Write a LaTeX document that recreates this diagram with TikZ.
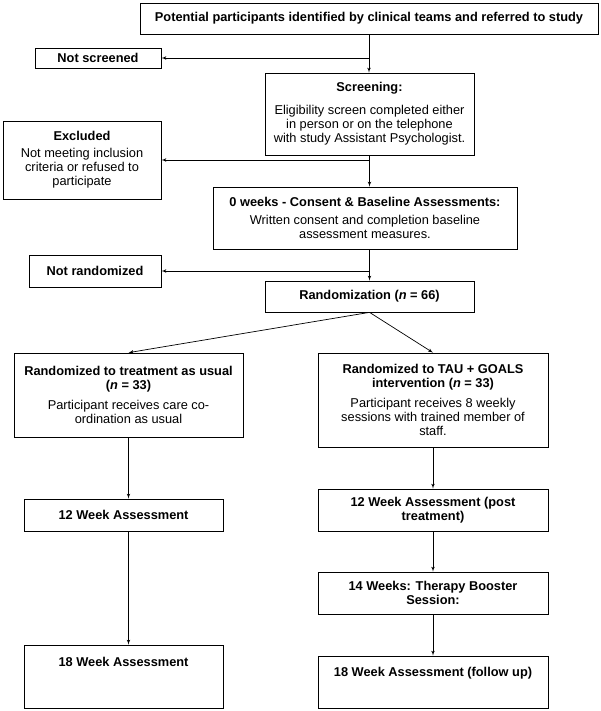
\documentclass[tikz,border=0pt]{standalone}
\usepackage{fontspec}
\setmainfont{Liberation Sans}
\usetikzlibrary{arrows, positioning, calc}
\tikzset{block/.style={draw, rectangle, align=center, inner sep=2pt, line width=0.7pt},
         >=latex'}

\begin{document}
\begin{tikzpicture}[x=1pt, y=-1pt, font=\fontsize{12.8}{14.4}\selectfont, line width=0.7pt]
    \useasboundingbox (0,0) rectangle (600,711);

    \node[block, minimum width=458pt, minimum height=31pt] (ref) at (369,18.5) {\bfseries Potential participants identified by clinical teams and referred to study};
    \node[block, minimum width=126pt, minimum height=20pt] (notscr) at (98,58) {\bfseries Not screened};
    \node[block, minimum width=209pt, minimum height=82pt] (screen) at (369.5,114) {\textbf{Screening:}\\[8pt] Eligibility screen completed either\\ in person or on the telephone\\ with study Assistant Psychologist.};
    \node[block, minimum width=158pt, minimum height=78pt] (excl) at (82,160) {\textbf{Excluded}\\[2pt] Not meeting inclusion\\ criteria or refused to\\ participate};
    \node[block, minimum width=304pt, minimum height=62pt] (consent) at (365,218) {\textbf{0 weeks - Consent \& Baseline Assessments:}\\[4pt] Written consent and completion baseline\\ assessment measures.};
    \node[block, minimum width=132pt, minimum height=32pt] (notrand) at (95,271) {\bfseries Not randomized};
    \node[block, minimum width=209pt, minimum height=31pt] (rand) at (369.5,296.5) {\bfseries Randomization (\textit{n} = 66)};

    \node[block, minimum width=229pt, minimum height=84pt] (tau) at (128.5,395) {\bfseries Randomized to treatment as usual\\ \bfseries (\textit{n} = 33)\\[5pt] \mdseries Participant receives care co-\\ ordination as usual};
    \node[block, minimum width=230pt, minimum height=94pt] (goals) at (433,400) {\bfseries Randomized to TAU + GOALS\\ \bfseries intervention (\textit{n} = 33)\\[5pt] \mdseries Participant receives 8 weekly\\ sessions with trained member of\\ staff.};

    \node[block, minimum width=199pt, minimum height=32pt] (wkl12) at (123.5,515) {\bfseries 12 Week Assessment};
    \node[block, minimum width=230pt, minimum height=42pt] (wkr12) at (433,510) {\bfseries 12 Week Assessment (post\\ \bfseries treatment)};
    \node[block, minimum width=230pt, minimum height=42pt] (wkr14) at (433,593) {\bfseries 14 Weeks: Therapy Booster\\ \bfseries Session:};
    \node[block, minimum width=199pt, text height=19pt, text depth=40pt] (wkl18) at (123.5,676.5) {\bfseries 18 Week Assessment};
    \node[block, minimum width=230pt, text height=18pt, text depth=30pt] (wkr18) at (433,682) {\bfseries 18 Week Assessment (follow up)};

    \draw[->] (ref.south) -- (ref.south |- screen.north);
    \draw[->] (ref.south |- notscr.east) -- (notscr.east);
    \draw[->] (screen.south) -- (screen.south |- consent.north);
    \draw[->] (screen.south |- excl.east) -- (excl.east);
    \draw[->] (rand.north |- consent.south) -- (rand.north);
    \draw[->] (rand.north |- notrand.east) -- (notrand.east);
    \draw[->] (rand.south) -- (tau.north);
    \draw[->] (rand.south) -- (goals.north);
    \draw[->] (tau.south) -- (tau.south |- wkl12.north);
    \draw[->] (tau.south |- wkl12.south) -- (tau.south |- wkl18.north);
    \draw[->] (goals.south) -- (wkr12.north);
    \draw[->] (wkr12.south) -- (wkr14.north);
    \draw[->] (wkr14.south) -- (wkr18.north);
\end{tikzpicture}
\end{document}
